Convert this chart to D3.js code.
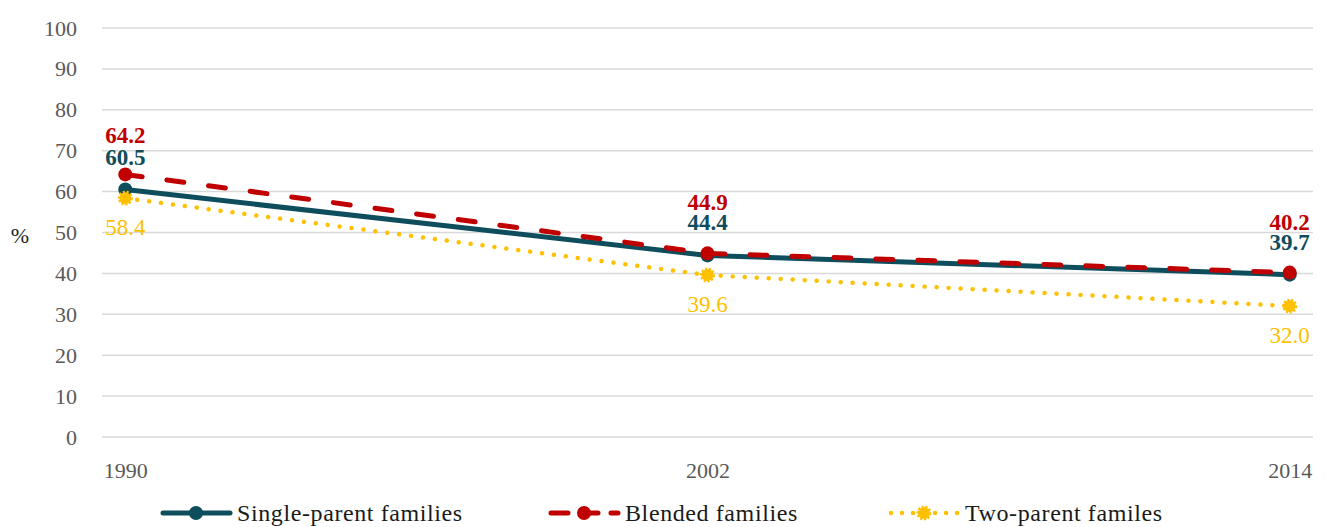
<!DOCTYPE html>
<html>
<head>
<meta charset="utf-8">
<script src="https://cdn.jsdelivr.net/npm/d3@7/dist/d3.min.js"></script>
<style>
  html, body { margin: 0; padding: 0; background: #fff; }
  svg { display: block; }
  text { font-family: "Liberation Serif", "DejaVu Serif", serif; }
</style>
</head>
<body>
<svg id="chart" width="1327" height="527"></svg>
<script>
// Share (%) by family type, surveyed years
const years = ["1990", "2002", "2014"];
const singleParent = [60.5, 44.4, 39.7];
const blended = [64.2, 44.9, 40.2];
const twoParent = [58.4, 39.6, 32.0];
const yTicks = [0, 10, 20, 30, 40, 50, 60, 70, 80, 90, 100];
const seriesNames = ["Single-parent families", "Blended families", "Two-parent familes"];

const FONT = "Liberation Serif";
const svg = d3.select("#chart");

const x = d3.scalePoint().domain(years).range([102, 1313]).padding(0.04);
const y = d3.scaleLinear().domain([0, 100]).range([437, 28]);

// gridlines
svg.append("g")
  .selectAll("line")
  .data(yTicks)
  .join("line")
  .attr("x1", 102).attr("x2", 1313)
  .attr("y1", d => y(d)).attr("y2", d => y(d))
  .attr("stroke", "#d9d9d9").attr("stroke-width", 1.5);

// y axis labels
const yAxis = d3.axisLeft(y).tickValues(yTicks).tickSize(0).tickPadding(0);
svg.append("g")
  .attr("transform", "translate(77,0)")
  .call(yAxis)
  .call(g => g.select(".domain").remove())
  .call(g => g.selectAll("text")
    .attr("font-family", FONT)
    .attr("font-size", 22)
    .attr("fill", "#595959"));

// x axis labels
const xAxis = d3.axisBottom(x).tickSize(0).tickPadding(0);
svg.append("g")
  .attr("transform", "translate(0,462)")
  .call(xAxis)
  .call(g => g.select(".domain").remove())
  .call(g => g.selectAll("text")
    .attr("font-family", FONT)
    .attr("font-size", 22)
    .attr("fill", "#595959"));

svg.append("text")
  .attr("x", 20).attr("y", 243)
  .attr("text-anchor", "middle")
  .attr("font-size", 22)
  .attr("fill", "#262626")
  .text("%");

const series = [
  { name: seriesNames[0], values: singleParent, color: "#0e4d5c", dash: null, marker: "circle" },
  { name: seriesNames[1], values: blended, color: "#c00000", dash: "17,25", marker: "circle" },
  { name: seriesNames[2], values: twoParent, color: "#ffc000", dash: "0.01,12", marker: "burst" }
];

const line = d3.line().x((d, i) => x(years[i])).y(d => y(d));

function drawMarker(g, cx, cy, s) {
  if (s.marker === "circle") {
    g.append("circle").attr("cx", cx).attr("cy", cy).attr("r", 7).attr("fill", s.color);
  } else {
    g.append("circle").attr("cx", cx).attr("cy", cy).attr("r", 6)
      .attr("fill", s.color).attr("stroke", s.color)
      .attr("stroke-width", 3).attr("stroke-dasharray", "2,1.6");
  }
}

series.forEach(s => {
  svg.append("path")
    .datum(s.values)
    .attr("d", line)
    .attr("fill", "none")
    .attr("stroke", s.color)
    .attr("stroke-width", s.marker === "burst" ? 4.5 : 5)
    .attr("stroke-linecap", "round")
    .attr("stroke-linejoin", "round")
    .attr("stroke-dasharray", s.dash);
  const g = svg.append("g");
  s.values.forEach((v, i) => drawMarker(g, x(years[i]), y(v), s));
});

// value labels
const labelG = svg.append("g")
  .attr("font-family", FONT)
  .attr("font-size", 23)
  .attr("text-anchor", "middle");

years.forEach((yr, i) => {
  const cx = x(yr);
  const tealBase = y(singleParent[i]) - 25;
  const redBase = Math.min(y(blended[i]) - 31, tealBase - 20);
  const yellowBase = y(twoParent[i]) + 37;
  labelG.append("text").attr("x", cx).attr("y", tealBase)
    .attr("font-weight", "bold")
    .attr("fill", series[0].color).text(singleParent[i].toFixed(1));
  labelG.append("text").attr("x", cx).attr("y", redBase)
    .attr("font-weight", "bold")
    .attr("fill", series[1].color).text(blended[i].toFixed(1));
  labelG.append("text").attr("x", cx).attr("y", yellowBase)
    .attr("fill", series[2].color).text(twoParent[i].toFixed(1));
});

// legend
const legendX = [160, 548, 888];
const legend = svg.append("g");
series.forEach((s, i) => {
  const lx = legendX[i], ly = 513;
  legend.append("line")
    .attr("x1", lx + 3).attr("x2", lx + 70)
    .attr("y1", ly).attr("y2", ly)
    .attr("stroke", s.color)
    .attr("stroke-width", s.marker === "burst" ? 4.5 : 5)
    .attr("stroke-linecap", "round")
    .attr("stroke-dasharray", s.marker === "burst" ? "0.01,11" : (s.dash ? "17,13" : null));
  drawMarker(legend, lx + 36, ly, s);
  legend.append("text")
    .attr("x", lx + 77).attr("y", ly + 8)
    .attr("font-family", FONT)
    .attr("font-size", 24)
    .attr("letter-spacing", 0.6)
    .attr("fill", "#1a1a1a")
    .text(s.name);
});
</script>
</body>
</html>
